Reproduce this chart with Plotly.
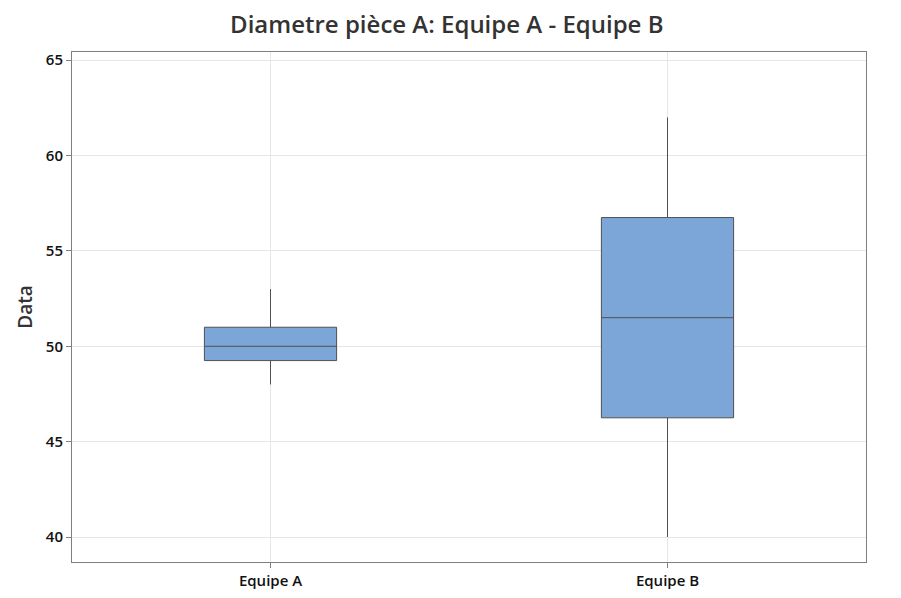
import plotly.graph_objects as go

categories = ["Equipe A", "Equipe B"]
q1 = [49.25, 46.25]
median = [50.0, 51.5]
q3 = [51.0, 56.75]
lower = [48.0, 40.0]
upper = [53.0, 62.0]

fig = go.Figure()
fig.add_trace(go.Box(
    x=categories, q1=q1, median=median, q3=q3,
    lowerfence=lower, upperfence=upper,
    fillcolor="#7CA6D8",
    line=dict(color="#505050", width=1),
    width=0.333, whiskerwidth=0, boxpoints=False,
    showlegend=False, hoverinfo="skip",
))

font_family = "Open Sans, Noto Sans, sans-serif"
fig.update_layout(
    width=901, height=598,
    margin=dict(l=64, r=43, t=44, b=44),
    paper_bgcolor="white", plot_bgcolor="white",
    title=dict(text="Diametre pièce A: Equipe A - Equipe B", x=0.487, xanchor="center",
               y=0.972, yanchor="middle",
               font=dict(family=font_family, size=24, color="#333333", weight=600)),
    font=dict(family=font_family, color="#111111"),
    xaxis=dict(
        range=[-0.5, 1.5], showgrid=True, gridcolor="#e6e6e6", gridwidth=1,
        showline=True, linecolor="#7f7f7f", linewidth=1, mirror=True,
        ticks="outside", ticklen=5, tickcolor="#7f7f7f",
        tickfont=dict(size=15, weight=600, color="#111111"), zeroline=False,
    ),
    yaxis=dict(
        range=[38.69, 65.43], tickvals=[40, 45, 50, 55, 60, 65],
        showgrid=True, gridcolor="#e6e6e6", gridwidth=1,
        showline=True, linecolor="#7f7f7f", linewidth=1, mirror=True,
        ticks="outside", ticklen=5, tickcolor="#7f7f7f",
        tickfont=dict(size=15, weight=600, color="#111111"), zeroline=False,
        title=dict(text="Data", standoff=8,
                   font=dict(size=19, weight=600, color="#333333")),
    ),
)

fig.write_html("out.html")
